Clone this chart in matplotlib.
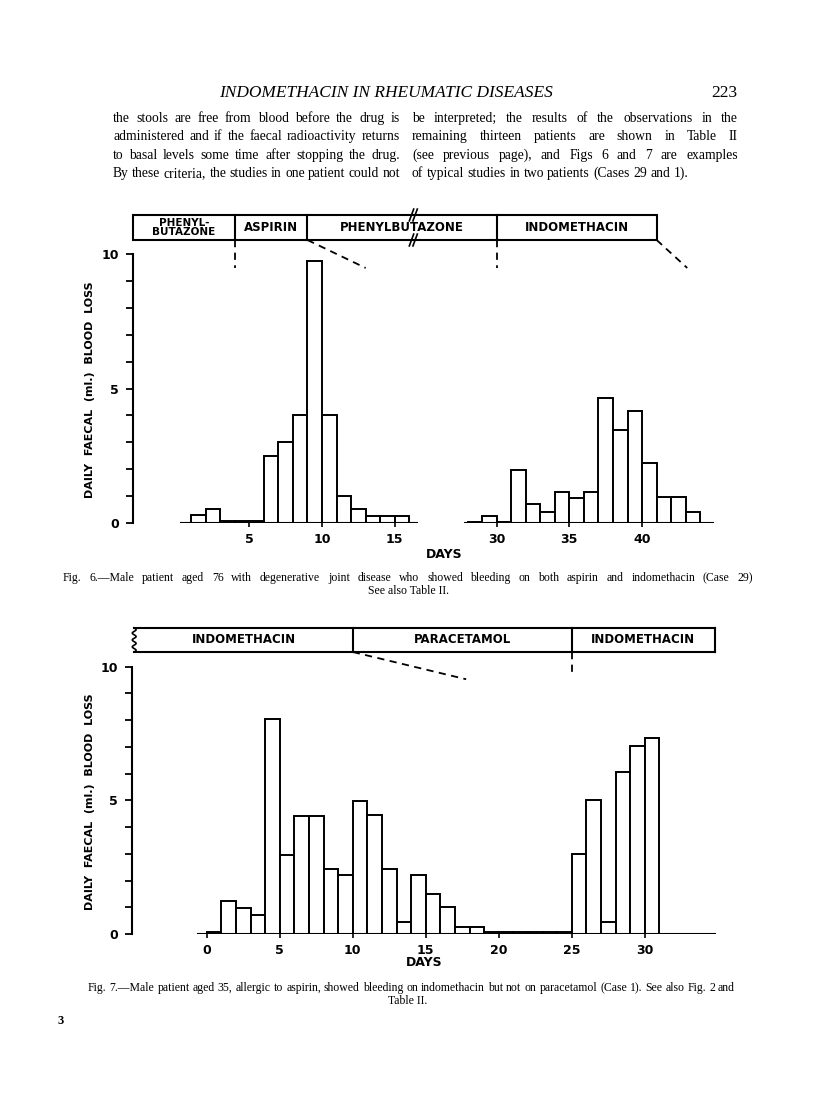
import numpy as np
import matplotlib
matplotlib.use("Agg")
import matplotlib.pyplot as plt
from matplotlib.patches import Rectangle

W, H = 816, 1113   # page size in pixels (dpi 100)

# Fig. 6 -- Case 29, daily faecal blood loss (ml.); each bar covers day d to d+1
fig6_days_a = [1, 2, 3, 4, 5, 6, 7, 8, 9, 10, 11, 12, 13, 14, 15]
fig6_loss_a = [0.28, 0.52, 0.06, 0.06, 0.06, 2.5, 3.0, 4.0, 9.73, 4.0, 1.02, 0.52, 0.25, 0.25, 0.25]
fig6_days_b = [28, 29, 30, 31, 32, 33, 34, 35, 36, 37, 38, 39, 40, 41, 42, 43]
fig6_loss_b = [0.05, 0.27, 0.05, 1.97, 0.70, 0.42, 1.15, 0.92, 1.15, 4.63, 3.46, 4.16, 2.22, 0.98, 0.98, 0.40]
fig6_xticks = [5, 10, 15, 30, 35, 40]
fig6_drugs = ["PHENYL-\nBUTAZONE", "ASPIRIN", "PHENYLBUTAZONE", "INDOMETHACIN"]
fig6_drug_end = [4, 9, 30, 41]          # day each drug period ends

# Fig. 7 -- Case 1
fig7_days = list(range(0, 31))
fig7_loss = [0.09, 1.25, 0.98, 0.70, 8.03, 2.97, 4.41, 4.41, 2.44, 2.21,
             4.98, 4.46, 2.44, 0.44, 2.21, 1.50, 1.02, 0.27, 0.27, 0.08,
             0.08, 0.08, 0.08, 0.08, 0.08, 2.98, 5.01, 0.46, 6.05, 7.05, 7.34]
fig7_xticks = [0, 5, 10, 15, 20, 25, 30]
fig7_drugs = ["INDOMETHACIN", "PARACETAMOL", "INDOMETHACIN"]
fig7_drug_end = [10, 25, 34.8]

GAP6 = 8   # days cut out of the fig. 6 axis at the break

BOLD = dict(family="DejaVu Sans", fontweight="bold")
SERIF = "Liberation Serif"

fig = plt.figure(figsize=(W / 100, H / 100), dpi=100)
fig.patch.set_facecolor("white")


def page_axes(left, right, top, bottom):
    return fig.add_axes([left / W, 1 - bottom / H, (right - left) / W, (bottom - top) / H])


def style_axes(ax, xlim):
    ax.set_xlim(*xlim)
    ax.set_ylim(0, 10)
    for s in ["top", "right", "bottom"]:
        ax.spines[s].set_visible(False)
    ax.spines["left"].set_linewidth(1.5)
    ax.spines["left"].set_bounds(0, 10)
    ax.set_yticks([0, 5, 10])
    ax.set_yticks(range(11), minor=True)
    ax.tick_params(axis="y", which="both", direction="out", length=5, width=1.3, pad=5)
    ax.tick_params(axis="x", direction="out", length=3, width=1.2, pad=4)
    for lab in ax.get_yticklabels():
        lab.set_fontsize(9)
        lab.set_fontweight("bold")
    ax.patch.set_alpha(0)


def drug_box(ax, x0, x1, ylo, yhi):
    ax.add_patch(Rectangle((x0, ylo), x1 - x0, yhi - ylo, fill=False, lw=1.5,
                           ec="black", clip_on=False))


def dashed(ax, xs, ys):
    ax.plot(xs, ys, color="black", lw=1.3, ls=(0, (4, 3)), clip_on=False)


# ---------------- Fig. 6 ----------------
ax6 = page_axes(133, 745, 254, 523)
x_left6 = -2.99
style_axes(ax6, (x_left6, 39.07))

xb = np.array(fig6_days_b) - GAP6
ax6.bar(fig6_days_a, fig6_loss_a, width=1, align="edge", fc="white", ec="black", lw=1.4)
ax6.bar(xb, fig6_loss_b, width=1, align="edge", fc="white", ec="black", lw=1.4)
ax6.plot([0.3, 16.5], [0, 0], color="black", lw=1.5)
ax6.plot([27.86 - GAP6, 44.9 - GAP6], [0, 0], color="black", lw=1.5)

ax6.set_xticks([t if t < 20 else t - GAP6 for t in fig6_xticks])
ax6.set_xticklabels([str(t) for t in fig6_xticks], fontsize=9, fontweight="bold")

lo, hi = 10.52, 11.45
ends6 = [e if e < 20 else e - GAP6 for e in fig6_drug_end]
drug_box(ax6, x_left6, ends6[-1], lo, hi)
starts6 = [x_left6] + ends6[:-1]
for name, s, e in zip(fig6_drugs, starts6, ends6):
    if e != ends6[-1]:
        ax6.plot([e, e], [lo, hi], color="black", lw=1.5, clip_on=False)
    size = 7.5 if "\n" in name else 8.5
    ax6.text((s + e) / 2, (lo + hi) / 2, name, ha="center", va="center",
             fontsize=size, linespacing=0.8, clip_on=False, **BOLD)
# break marks on the bar
for yy in (lo, hi):
    for dx in (0.0, 0.25):
        ax6.plot([16.0 + dx, 16.3 + dx], [yy - 0.22, yy + 0.22], color="black", lw=1.2,
                 clip_on=False)
dashed(ax6, [4, 4], [lo, 9.48])
dashed(ax6, [9, 13.0], [lo, 9.48])
dashed(ax6, [30 - GAP6, 30 - GAP6], [lo, 9.48])
dashed(ax6, [41 - GAP6, 35.1], [lo, 9.48])

fig.text(90 / W, 1 - 390 / H, "DAILY  FAECAL  (ml.)  BLOOD  LOSS", rotation=90,
         ha="center", va="center", fontsize=8, **BOLD)
fig.text(444 / W, 1 - 555 / H, "DAYS", ha="center", va="center", fontsize=9, **BOLD)

# ---------------- Fig. 7 ----------------
ax7 = page_axes(132, 745, 666.7, 934)
x_left7 = -5.12
style_axes(ax7, (x_left7, 36.87))
ax7.bar(fig7_days, fig7_loss, width=1, align="edge", fc="white", ec="black", lw=1.4)
ax7.plot([-0.63, 34.8], [0, 0], color="black", lw=1.5)
ax7.set_xticks(fig7_xticks)
ax7.set_xticklabels([str(t) for t in fig7_xticks], fontsize=9, fontweight="bold")

lo7, hi7 = 10.55, 11.45
x_sq = x_left7 + 0.15
ax7.plot([x_sq, fig7_drug_end[-1]], [lo7, lo7], color="black", lw=1.5, clip_on=False)
ax7.plot([x_sq, fig7_drug_end[-1]], [hi7, hi7], color="black", lw=1.5, clip_on=False)
ax7.plot([fig7_drug_end[-1]] * 2, [lo7, hi7], color="black", lw=1.5, clip_on=False)
yy = np.linspace(lo7, hi7, 60)
ax7.plot(x_sq + 0.13 * np.sin((yy - lo7) / (hi7 - lo7) * 2 * np.pi * 3.5), yy,
         color="black", lw=1.2, clip_on=False)
starts7 = [x_sq] + fig7_drug_end[:-1]
for name, s, e in zip(fig7_drugs, starts7, fig7_drug_end):
    if e != fig7_drug_end[-1]:
        ax7.plot([e, e], [lo7, hi7], color="black", lw=1.5, clip_on=False)
    ax7.text((s + e) / 2, (lo7 + hi7) / 2, name, ha="center", va="center",
             fontsize=8.5, clip_on=False, **BOLD)
dashed(ax7, [10, 17.77], [lo7, 9.53])
dashed(ax7, [25, 25], [lo7, 9.61])

fig.text(90 / W, 1 - 802 / H, "DAILY  FAECAL  (ml.)  BLOOD  LOSS", rotation=90,
         ha="center", va="center", fontsize=8, **BOLD)
fig.text(424 / W, 1 - 962 / H, "DAYS", ha="center", va="center", fontsize=9, **BOLD)

# ---------------- page text ----------------
renderer = fig.canvas.get_renderer()


def word_widths(text, size):
    t = fig.text(0, 0, "", fontsize=size, family=SERIF)
    out = []
    for w in text.split():
        t.set_text(w)
        out.append(t.get_window_extent(renderer).width)
    t.remove()
    return out


def fit_size(lines, width, size, min_gap):
    # largest size at which every line fits its column with min_gap between words
    while size > 6:
        ok = True
        for text in lines:
            ws = word_widths(text, size)
            if (width - sum(ws)) / max(len(ws) - 1, 1) < min_gap:
                ok = False
                break
        if ok:
            return size
        size -= 0.1
    return size


def put_line(text, x0, x1, base, size, justify=True, **kw):
    words = text.split()
    ws = word_widths(text, size)
    gap = (x1 - x0 - sum(ws)) / max(len(ws) - 1, 1)
    if not justify:
        gap = min(gap, 3.4)
    x = x0
    for w, wd in zip(words, ws):
        fig.text(x / W, 1 - base / H, w, fontsize=size, va="baseline", family=SERIF, **kw)
        x += wd + gap


fig.text(386 / W, 1 - 97 / H, "INDOMETHACIN IN RHEUMATIC DISEASES", ha="center",
         va="baseline", fontsize=12.5, style="italic", family=SERIF)
fig.text(737 / W, 1 - 97 / H, "223", ha="right", va="baseline", fontsize=12.5, family=SERIF)

left_col = ["the stools are free from blood before the drug is",
            "administered and if the faecal radioactivity returns",
            "to basal levels some time after stopping the drug.",
            "By these criteria, the studies in one patient could not"]
right_col = ["be interpreted; the results of the observations in the",
             "remaining thirteen patients are shown in Table II",
             "(see previous page), and Figs 6 and 7 are examples",
             "of typical studies in two patients (Cases 29 and 1)."]
body = min(fit_size(left_col, 400 - 113, 11.5, 3.2), fit_size(right_col, 738 - 412, 11.5, 3.2))
for i, (a, b) in enumerate(zip(left_col, right_col)):
    base = 122 + i * 18.3
    put_line(a, 113, 400, base, body)
    put_line(b, 412, 738, base, body, justify=(i < 3))

cap6 = "Fig. 6.\u2014Male patient aged 76 with degenerative joint disease who showed " \
       "bleeding on both aspirin and indomethacin (Case 29)"
cap7 = "Fig. 7.\u2014Male patient aged 35, allergic to aspirin, showed bleeding on " \
       "indomethacin but not on paracetamol (Case 1).   See also Fig. 2 and"
cap = min(fit_size([cap6], 753 - 63, 8.6, 4.0), fit_size([cap7], 735 - 88, 8.6, 3.0))
put_line(cap6, 63, 753, 581, cap)
fig.text(408 / W, 1 - 594 / H, "See also Table II.", ha="center", va="baseline",
         fontsize=cap, family=SERIF)
put_line(cap7, 88, 735, 991, cap)
fig.text(408 / W, 1 - 1004 / H, "Table II.", ha="center", va="baseline",
         fontsize=cap, family=SERIF)
fig.text(57 / W, 1 - 1024 / H, "3", va="baseline", fontsize=9, fontweight="bold", family=SERIF)

fig.savefig("out.png", dpi=100, facecolor="white")
